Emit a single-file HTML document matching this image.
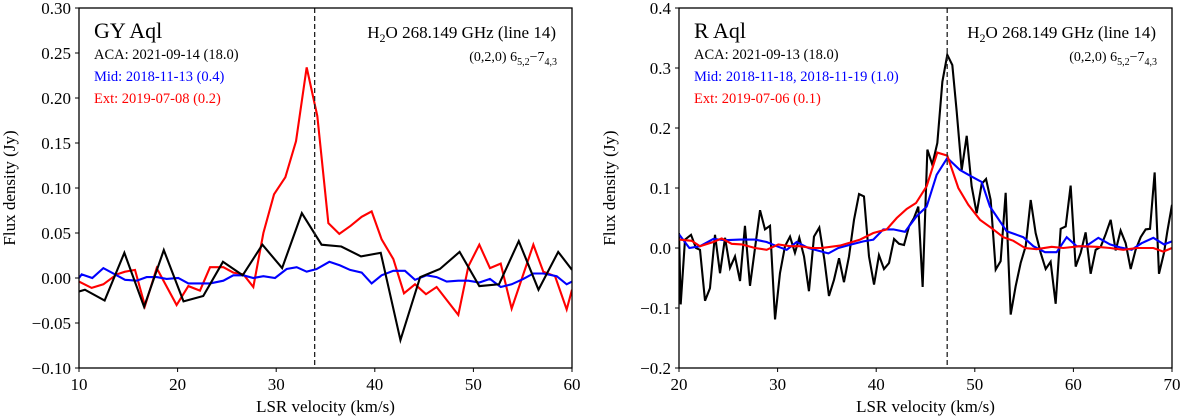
<!DOCTYPE html>
<html><head><meta charset="utf-8"><style>
html,body{margin:0;padding:0;background:#fff;}
svg{display:block;font-family:"Liberation Serif","DejaVu Serif",serif;}
</style></head><body>
<svg id="c" width="1200" height="419" viewBox="0 0 1200 419" xmlns="http://www.w3.org/2000/svg">
<defs>
<clipPath id="clipL"><rect x="79" y="8" width="493" height="360"/></clipPath>
<clipPath id="clipR"><rect x="679" y="8" width="493" height="360"/></clipPath>
</defs>
</svg>
<script>
// ---- Left panel (GY Aql) data ----
const gyBlackV = [10,10.6,12.6,14.6,16.6,18.6,20.6,22.6,24.6,26.6,28.6,30.6,32.6,34.6,36.6,38.6,40.6,42.6,44.6,46.6,48.6,50.6,52.6,54.6,56.6,58.6,60];
const gyBlackF = [-0.015,-0.013,-0.025,0.028,-0.032,0.031,-0.026,-0.020,0.018,0.003,0.037,0.011,0.072,0.037,0.035,0.024,0.028,-0.069,0.001,0.010,0.029,-0.009,-0.007,0.041,-0.013,0.029,0.009];
const gyRedV = [10,11.28,12.47,13.82,14.67,15.68,16.69,17.88,19.9,21.09,22.27,23.29,24.64,25.65,26.67,27.68,28.7,29.78,30.93,32.01,33.09,34.17,35.29,36.4,37.55,38.67,39.68,40.69,41.88,42.96,44.08,45.19,46.27,48.47,49.49,50.6,51.68,52.77,53.88,56.08,57.09,58.28,59.46,60];
const gyRedF = [-0.004,-0.011,-0.007,0.004,0.007,0.009,-0.031,0.011,-0.030,-0.009,-0.014,0.012,0.012,0.006,0.004,-0.010,0.050,0.093,0.112,0.152,0.234,0.180,0.061,0.049,0.058,0.068,0.074,0.043,0.021,-0.017,-0.007,-0.018,-0.010,-0.041,0.013,0.037,0.011,0.016,-0.034,0.037,0.007,0.002,-0.035,-0.013];
const gyBlueV = [10.0,10.27,11.35,12.47,14.67,15.85,16.86,17.88,18.89,20.07,21.09,22.27,23.29,24.64,25.65,26.67,27.68,28.7,29.88,31.06,32.08,33.09,34.1,35.39,36.47,37.49,38.67,39.68,40.69,41.88,43.06,44.08,45.26,46.27,47.29,48.47,49.49,50.6,51.68,52.77,53.88,55.06,56.08,57.09,58.45,59.46,60];
const gyBlueF = [0.000,0.004,0.000,0.011,-0.002,-0.003,0.001,0.001,-0.001,0.000,-0.006,-0.006,-0.006,-0.003,0.003,0.003,0.000,0.002,0.000,0.010,0.012,0.007,0.010,0.018,0.014,0.009,0.006,-0.006,0.003,0.008,0.008,-0.002,0.003,0.001,-0.004,-0.003,-0.003,-0.005,-0.001,-0.010,-0.007,-0.001,0.005,0.005,0.002,-0.007,-0.004];
const gyXTicks = [10,20,30,40,50,60];
const gyYTicks = [-0.10,-0.05,0.00,0.05,0.10,0.15,0.20,0.25,0.30];
const gyYLabels = ["−0.10","−0.05","0.00","0.05","0.10","0.15","0.20","0.25","0.30"];
const gyVsys = [33.9];

// ---- Right panel (R Aql) data ----
const rBlackV = [20.00,20.17,20.61,21.22,21.72,22.13,22.64,23.14,23.65,24.16,24.67,25.17,25.68,26.19,26.69,27.20,27.71,28.22,28.72,29.23,29.74,30.24,30.75,31.26,31.76,32.20,32.68,33.18,33.69,34.23,34.74,35.21,35.72,36.23,36.73,37.24,37.75,38.26,38.76,39.27,39.78,40.28,40.79,41.30,41.81,42.31,42.82,43.33,43.83,44.27,44.71,45.19,45.69,46.20,46.71,47.21,47.72,48.16,48.67,49.18,49.68,50.19,50.70,51.14,51.61,52.12,52.62,53.13,53.64,54.14,54.65,55.16,55.67,56.17,56.68,57.19,57.69,58.20,58.71,59.22,59.72,60.23,60.74,61.24,61.75,62.26,62.77,63.27,63.78,64.29,64.79,65.30,65.81,66.31,66.82,67.33,67.77,68.24,68.68,69.19,69.53,70.00];
const rBlackF = [0.025,-0.094,0.014,0.022,0.000,-0.003,-0.088,-0.067,0.022,-0.042,0.017,-0.033,-0.014,-0.055,0.037,-0.063,0.000,0.063,0.031,0.037,-0.119,-0.042,0.003,0.019,-0.008,0.017,-0.014,-0.072,0.019,0.034,-0.019,-0.080,-0.053,-0.017,-0.057,-0.014,0.047,0.090,0.086,-0.014,-0.061,-0.012,-0.035,-0.025,0.015,0.007,0.005,0.036,0.050,0.069,-0.065,0.164,0.139,0.175,0.277,0.322,0.305,0.228,0.130,0.187,0.103,0.058,0.107,0.115,0.080,-0.036,-0.022,0.092,-0.111,-0.064,-0.025,0.003,0.080,0.025,-0.008,-0.035,-0.023,-0.093,0.032,0.036,0.104,-0.031,-0.008,0.026,-0.043,-0.003,0.002,0.023,0.047,-0.004,0.029,0.008,-0.035,-0.003,0.018,0.031,0.032,0.126,-0.043,-0.008,0.028,0.072];
const rBlueV = [20.00,21.05,22.13,23.48,24.67,26.19,27.71,28.89,29.91,30.92,31.93,33.12,35.15,36.16,37.51,38.70,39.71,40.72,41.74,42.92,44.10,45.12,46.13,47.21,48.50,49.68,50.70,51.54,53.23,54.92,55.94,57.12,58.30,59.32,60.33,61.18,62.53,63.71,64.73,65.91,66.92,68.11,69.19,70];
const rBlueF = [0.023,0.000,0.003,0.015,0.013,0.014,0.014,0.010,0.003,-0.003,0.010,0.000,-0.009,0.000,0.006,0.011,0.014,0.031,0.031,0.027,0.053,0.069,0.122,0.150,0.130,0.119,0.110,0.069,0.028,0.018,0.003,-0.007,-0.007,0.018,0.003,0.002,0.017,0.006,0.001,-0.003,0.008,0.017,0.006,0.011];
const rRedV = [20,21.28,22.13,23.48,24.33,25.34,26.36,27.71,28.89,30.07,31.26,32.27,33.46,34.47,36.33,38.36,39.71,41.06,42.08,43.09,44.04,45.12,46.20,47.21,48.33,49.34,50.53,51.71,52.89,53.91,55.09,56.27,57.80,58.98,60.67,62.36,63.71,65.06,66.42,68.11,69.12,70];
const rRedF = [0.014,0.012,0.003,0.010,0.016,0.007,0.006,0.000,-0.003,0.006,0.003,0.003,0.000,0.000,0.004,0.014,0.025,0.031,0.050,0.065,0.075,0.103,0.159,0.154,0.100,0.072,0.047,0.033,0.018,0.012,0.000,-0.002,0.002,0.000,0.003,0.002,0.000,-0.003,0.000,0.000,-0.006,0.000];
const rXTicks = [20,30,40,50,60,70];
const rYTicks = [-0.2,-0.1,0.0,0.1,0.2,0.3,0.4];
const rYLabels = ["−0.2","−0.1","0.0","0.1","0.2","0.3","0.4"];
const rVsys = [47.2];

const NS = "http://www.w3.org/2000/svg";
const svg = document.getElementById('c');
function mk(tag, attrs, parent){
  const e = document.createElementNS(NS, tag);
  for (const k in attrs) e.setAttribute(k, attrs[k]);
  (parent||svg).appendChild(e);
  return e;
}

function panel(p){
  const L=p.left, R=L+493, T=8, B=368;
  const sx = v => L + (v - p.xmin)/(p.xmax - p.xmin)*(R-L);
  const sy = f => B - (f - p.ymin)/(p.ymax - p.ymin)*(B-T);
  const g = mk('g', {});
  
  

  // series
  const sg = mk('g', {'clip-path': 'url(#' + p.clip + ')'}, g);
  
  
  p.series.forEach(s => {
    const d = s.v.map((v,i) => (i?'L':'M') + sx(v).toFixed(2) + ',' + sy(s.f[i]).toFixed(2)).join(' ');
    const path = mk('path', {d: d, fill:'none', stroke:s.color, 'stroke-width':2.1, 'stroke-linejoin':'miter'}, sg);
    
    
  });
  // vsys line
  const vl = mk('line', {x1:sx(p.vsys[0]), x2:sx(p.vsys[0]), y1:T, y2:B, stroke:'#222', 'stroke-width':1.3, 'stroke-dasharray':'5,3'}, g);
  
  

  // frame
  const fr = mk('rect', {x:L, y:T, width:R-L, height:B-T, fill:'none', stroke:'#000', 'stroke-width':1.3}, g);
  
  

  // x ticks
  p.xticks.forEach(t => {
    const x = sx(t);
    const tk = mk('line', {x1:x, x2:x, y1:B, y2:B+4, stroke:'#000', 'stroke-width':1}, g);
    
    
    const tx = mk('text', {x:x, y:B+22, 'text-anchor':'middle', 'font-size':17}, g);
    
    
    tx.textContent = String(t);
  });
  // y ticks
  p.yticks.forEach((t,i) => {
    const y = sy(t);
    const tk = mk('line', {x1:L-4, x2:L, y1:y, y2:y, stroke:'#000', 'stroke-width':1}, g);
    
    
    const tx = mk('text', {x:L-8, y:y+6, 'text-anchor':'end', 'font-size':17}, g);
    
    
    tx.textContent = p.ylabels[i];
  });
  // axis titles
  const xt = mk('text', {x:(L+R)/2, y:412, 'text-anchor':'middle', 'font-size':17}, g);
  
  
  xt.textContent = 'LSR velocity (km/s)';
  const yx = L - 64, yy = (T+B)/2;
  const yt = mk('text', {x:yx, y:yy, 'text-anchor':'middle', 'font-size':17, transform:'rotate(-90 '+yx+' '+yy+')'}, g);
  
  
  yt.textContent = 'Flux density (Jy)';

  // annotations
  const st = mk('text', {x:L+15, y:38, 'font-size':22}, g);
  
  
  st.textContent = p.star;
  const cols = ['#000','#0000ff','#ff0000'];
  p.notes.forEach((n,i) => {
    const t = mk('text', {x:L+15, y:59 + i*22, 'font-size':14.5, fill:cols[i]}, g);
    
    
    t.textContent = n;
  });
  const l1 = mk('text', {x:R-16, y:38, 'text-anchor':'end', 'font-size':17}, g);
  
  
  l1.innerHTML = 'H<tspan font-size="12" dy="4">2</tspan><tspan dy="-4">O 268.149 GHz (line 14)</tspan>';
  const l2 = mk('text', {x:R-15, y:61, 'text-anchor':'end', 'font-size':14}, g);
  
  
  l2.innerHTML = '(0,2,0) 6<tspan font-size="10" dy="4">5,2</tspan><tspan dy="-4">−7</tspan><tspan font-size="10" dy="4">4,3</tspan>';
}

panel({name:'gy-aql', left:79, clip:'clipL', xmin:10, xmax:60, ymin:-0.10, ymax:0.30,
  xticks:gyXTicks, yticks:gyYTicks, ylabels:gyYLabels, vsys:gyVsys, star:'GY Aql',
  notes:['ACA: 2021-09-14 (18.0)','Mid: 2018-11-13 (0.4)','Ext: 2019-07-08 (0.2)'],
  series:[{id:'ext',v:gyRedV,f:gyRedF,color:'#ff0000'},{id:'mid',v:gyBlueV,f:gyBlueF,color:'#0000ff'},{id:'aca',v:gyBlackV,f:gyBlackF,color:'#000'}]});
panel({name:'r-aql', left:679, clip:'clipR', xmin:20, xmax:70, ymin:-0.2, ymax:0.4,
  xticks:rXTicks, yticks:rYTicks, ylabels:rYLabels, vsys:rVsys, star:'R Aql',
  notes:['ACA: 2021-09-13 (18.0)','Mid: 2018-11-18, 2018-11-19 (1.0)','Ext: 2019-07-06 (0.1)'],
  series:[{id:'aca',v:rBlackV,f:rBlackF,color:'#000'},{id:'mid',v:rBlueV,f:rBlueF,color:'#0000ff'},{id:'ext',v:rRedV,f:rRedF,color:'#ff0000'}]});
</script>
</body></html>
